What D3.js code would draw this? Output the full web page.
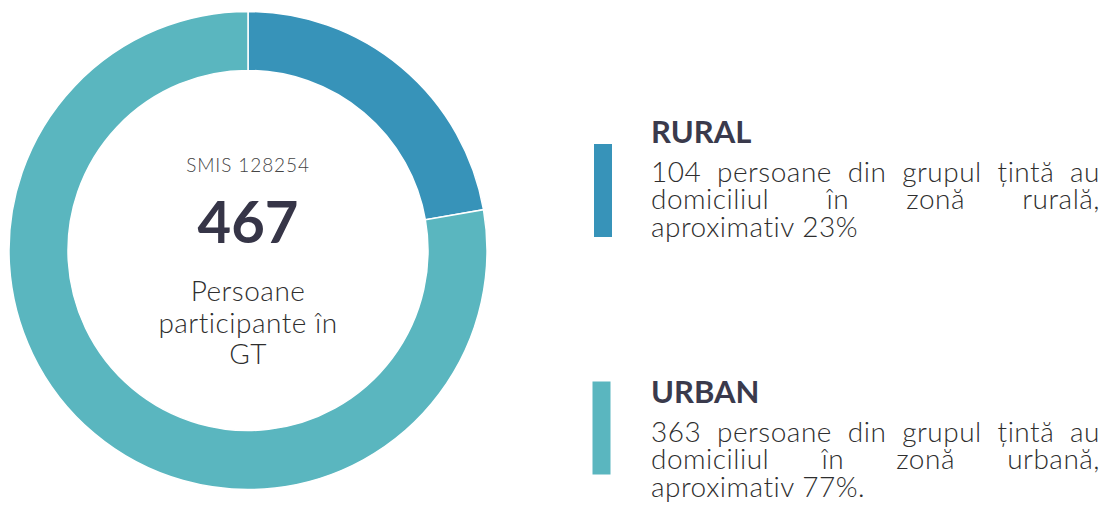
<!DOCTYPE html>
<meta charset="utf-8">
<head>
    <title>Grup tinta - rural / urban</title>
    <script src="https://d3js.org/d3.v7.min.js"></script>
    <style>
    body { margin: 0; background: #fff; }
    svg { display: block; font-family: Lato, "Open Sans", sans-serif; }
    .center-code { font-size: 19px; fill: #444; font-weight: 300; letter-spacing: 0.9px; }
    .center-total { font-size: 58px; fill: #363547; font-weight: 700; }
    .center-label { font-size: 28px; fill: #2e2e2e; font-weight: 300; letter-spacing: 0.5px; }
    .leg-title { font-size: 31px; fill: #3a3a4c; font-weight: 700; }
    .leg-text { font-size: 28px; fill: #2e2e2e; font-weight: 300; letter-spacing: 0.5px; }
    </style>
</head>
<body>
<script>

// data
var categories = ["RURAL", "URBAN"];
var values = [104, 363];
var total = 467;
var codeLabel = "SMIS 128254";
var centerLines = ["Persoane", "participante în", "GT"];
var descriptions = [
    ["104 persoane din grupul țintă au", "domiciliul în zonă rurală,", "aproximativ 23%"],
    ["363 persoane din grupul țintă au", "domiciliul în zonă urbană,", "aproximativ 77%."]
];

var width = 1108, height = 507;
var cx = 248, cy = 250.5;
var outerR = 239, innerR = 180;

var color = d3.scaleOrdinal()
    .domain(categories)
    .range(["#3793b9", "#5ab6bf"]);

var svg = d3.select("body").append("svg")
    .attr("width", width)
    .attr("height", height);

// donut
var pie = d3.pie().sort(null).value(function(d) { return d; });
var arc = d3.arc().innerRadius(innerR).outerRadius(outerR);

var g = svg.append("g")
    .attr("transform", "translate(" + cx + "," + cy + ")");

g.selectAll("path")
    .data(pie(values))
  .enter().append("path")
    .attr("d", arc)
    .attr("fill", function(d, i) { return color(categories[i]); })
    .attr("stroke", "#fff")
    .attr("stroke-width", 1.5);

// centre texts
g.append("text")
    .attr("class", "center-code")
    .attr("text-anchor", "middle")
    .attr("y", 171.5 - cy)
    .text(codeLabel);

g.append("text")
    .attr("class", "center-total")
    .attr("text-anchor", "middle")
    .attr("y", 243 - cy)
    .text(total);

g.selectAll(".center-label")
    .data(centerLines)
  .enter().append("text")
    .attr("class", "center-label")
    .attr("text-anchor", "middle")
    .attr("y", function(d, i) { return 301 - cy + i * 31.5; })
    .text(function(d) { return d; });

// legend blocks
var legX = 651, textRight = 1100, blockGap = 260;

var leg = svg.selectAll(".leg")
    .data(categories)
  .enter().append("g")
    .attr("class", "leg")
    .attr("transform", function(d, i) { return "translate(0," + (i * blockGap) + ")"; });

leg.append("rect")
    .attr("x", function(d, i) { return i ? 592.5 : 594; })
    .attr("y", function(d, i) { return i ? 381.5 - blockGap : 144; })
    .attr("width", 18)
    .attr("height", 93)
    .attr("fill", function(d) { return color(d); });

leg.append("text")
    .attr("class", "leg-title")
    .attr("x", legX)
    .attr("y", 142.5)
    .text(function(d) { return d; });

// justified description lines (last line left aligned)
leg.each(function(d, i) {
    var sel = d3.select(this);
    descriptions[i].forEach(function(line, li) {
        var y = 181.5 + li * 27.5;
        var last = li === descriptions[i].length - 1;
        if (last) {
            sel.append("text").attr("class", "leg-text")
                .attr("x", legX).attr("y", y).text(line);
            return;
        }
        var words = line.split(" ");
        var nodes = words.map(function(w) {
            return sel.append("text").attr("class", "leg-text").attr("y", y).text(w);
        });
        var widths = nodes.map(function(n) { return n.node().getComputedTextLength(); });
        var gap = (textRight - legX - d3.sum(widths)) / (words.length - 1);
        var x = legX;
        nodes.forEach(function(n, k) {
            n.attr("x", x);
            x += widths[k] + gap;
        });
    });
});

</script>
</body>
